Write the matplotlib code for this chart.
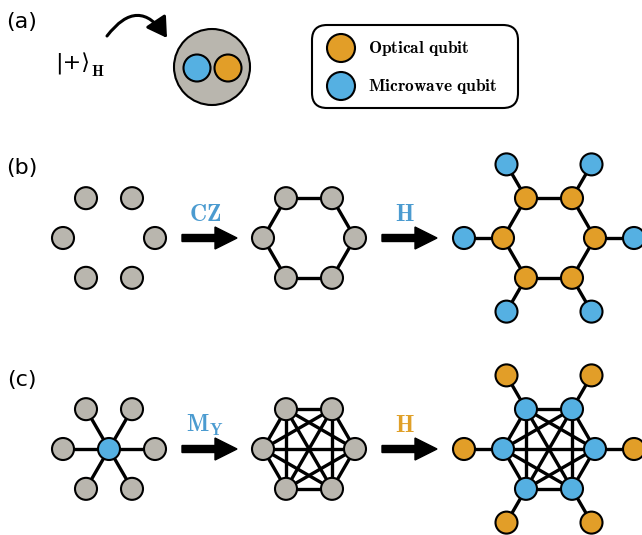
import numpy as np
import matplotlib.pyplot as plt
from matplotlib.patches import Circle, FancyArrowPatch, FancyBboxPatch
from itertools import combinations

plt.rcParams['mathtext.fontset'] = 'cm'

GRAY = '#b9b6ae'
ORANGE = '#e29e28'
BLUE = '#55b0e2'
LABEL_BLUE = '#4b9bd0'
LABEL_ORANGE = '#e0a028'

# hexagon geometry shared by all graphs (degrees, vertex on the left/right)
angles = [0, 60, 120, 180, 240, 300]
ring_r = 46
outer_r = 85
node_r = 11

# panel centres (pixels)
col_x = [109, 309, 549]
row_y = {'b': 238, 'c': 449}

ring_edges = [(i, (i + 1) % 6) for i in range(6)]
full_edges = list(combinations(range(6), 2))

# gate labels between the steps
gates_b = [r'$\mathbf{CZ}$', r'$\mathbf{H}$']
gates_c = [r'$\mathbf{M_Y}$', r'$\mathbf{H}$']
gate_colors_b = [LABEL_BLUE, LABEL_BLUE]
gate_colors_c = [LABEL_BLUE, LABEL_ORANGE]

fig = plt.figure(figsize=(6.42, 5.35), dpi=100)
ax = fig.add_axes([0, 0, 1, 1])
ax.set_xlim(0, 642)
ax.set_ylim(535, 0)
ax.set_aspect('equal')
ax.axis('off')


def ring(cx, cy, r):
    a = np.radians(angles)
    return cx + r * np.cos(a), cy - r * np.sin(a)


def node(x, y, color, r=node_r, lw=1.5):
    ax.add_patch(Circle((x, y), r, facecolor=color, edgecolor='black',
                        lw=lw, zorder=3))


def edge(p, q):
    ax.plot([p[0], q[0]], [p[1], q[1]], color='black', lw=2.4,
            solid_capstyle='butt', zorder=2)


def graph(cx, cy, edges, ring_color, leaves=None, centre=None):
    xs, ys = ring(cx, cy, ring_r)
    for i, j in edges:
        edge((xs[i], ys[i]), (xs[j], ys[j]))
    if leaves is not None:
        lx, ly = ring(cx, cy, outer_r)
        for i in range(6):
            edge((xs[i], ys[i]), (lx[i], ly[i]))
            node(lx[i], ly[i], leaves)
    if centre is not None:
        for i in range(6):
            edge((cx, cy), (xs[i], ys[i]))
        node(cx, cy, centre)
    for i in range(6):
        node(xs[i], ys[i], ring_color)


def step_arrow(x0, y, text, color):
    ax.arrow(x0, y, 55, 0, width=7, head_width=22, head_length=22,
             length_includes_head=True, color='black', zorder=2)
    ax.text(x0 + 23, y - 17, text, color=color, fontsize=17,
            ha='center', va='baseline')


# (a) encoding into a two-qubit node
ax.text(22, 22, '(a)', fontsize=16, ha='center', va='center')
ax.text(55, 64, '|+\u27e9', fontsize=16, ha='left', va='center')
ax.text(91, 71, r'$\mathbf{H}$', fontsize=11, ha='left', va='center')
ax.add_patch(FancyArrowPatch((107, 36), (167, 38),
                             connectionstyle='arc3,rad=-0.7',
                             arrowstyle='-|>,head_length=1.0,head_width=0.6',
                             lw=2.2, color='black', mutation_scale=12,
                             shrinkA=0, shrinkB=0))
ax.add_patch(Circle((212, 67), 38, facecolor=GRAY, edgecolor='black',
                    lw=1.5, zorder=2))
node(197, 68, BLUE, r=13.5)
node(228, 68, ORANGE, r=13.5)

# legend box
ax.add_patch(FancyBboxPatch((312, 25), 206, 83,
                            boxstyle='round,pad=0,rounding_size=15',
                            facecolor='white', edgecolor='black', lw=1.5))
node(341, 48, ORANGE, r=14)
node(341, 86, BLUE, r=14)
ax.text(368, 48, r'$\mathbf{Optical\ qubit}$', fontsize=12.5,
        ha='left', va='center')
ax.text(368, 87, r'$\mathbf{Microwave\ qubit}$', fontsize=12.5,
        ha='left', va='center')

# (b) ring graph state
yb = row_y['b']
ax.text(22, 168, '(b)', fontsize=16, ha='center', va='center')
graph(col_x[0], yb, [], GRAY)
graph(col_x[1], yb, ring_edges, GRAY)
graph(col_x[2], yb, ring_edges, ORANGE, leaves=BLUE)
step_arrow(182, yb, gates_b[0], gate_colors_b[0])
step_arrow(382, yb, gates_b[1], gate_colors_b[1])

# (c) star to complete graph
yc = row_y['c']
ax.text(22, 380, '(c)', fontsize=16, ha='center', va='center')
graph(col_x[0], yc, [], GRAY, centre=BLUE)
graph(col_x[1], yc, full_edges, GRAY)
graph(col_x[2], yc, full_edges, BLUE, leaves=ORANGE)
step_arrow(182, yc, gates_c[0], gate_colors_c[0])
step_arrow(382, yc, gates_c[1], gate_colors_c[1])

fig.savefig('out.png', dpi=100)
